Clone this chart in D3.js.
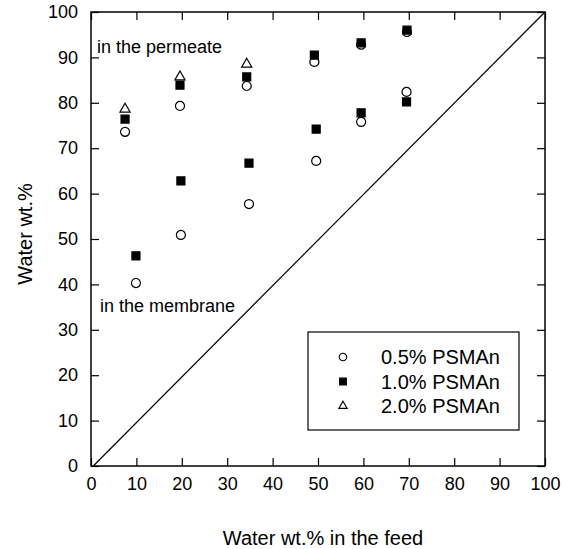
<!DOCTYPE html>
<html>
<head>
<meta charset="utf-8">
<script src="https://cdn.jsdelivr.net/npm/d3@7"></script>
<style>
  body { margin: 0; background: #fff; }
  text { font-family: "Liberation Sans", Arial, sans-serif; fill: #000; }
</style>
</head>
<body>
<svg id="chart"></svg>
<script>
//chart values
const feedPermeate = [7.5, 19.6, 34.3, 49.2, 59.5, 69.6];
const feedMembrane = [9.9, 19.8, 34.8, 49.6, 59.5, 69.5];

const permeate05 = [73.6, 79.3, 83.7, 89.0, 92.8, 95.6];
const permeate10 = [76.4, 83.9, 85.7, 90.5, 93.2, 96.0];
const permeate20 = [78.6, 85.7, 88.5];

const membrane05 = [40.3, 50.9, 57.7, 67.2, 75.8, 82.4];
const membrane10 = [46.3, 62.8, 66.7, 74.2, 77.8, 80.2];

const seriesNames = ["0.5% PSMAn", "1.0% PSMAn", "2.0% PSMAn"];
const tickValues = [0, 10, 20, 30, 40, 50, 60, 70, 80, 90, 100];
const diagonal = [[0.5, 0], [100, 100]];

//set up svg
const width = 565, height = 549;
const margin = { left: 91, right: 20, top: 12, bottom: 83 };

const svg = d3.select("#chart")
    .attr("width", width)
    .attr("height", height);

const x = d3.scaleLinear().domain([0, 100]).range([margin.left, width - margin.right]);
const y = d3.scaleLinear().domain([0, 100]).range([height - margin.bottom, margin.top]);

//axes with inward ticks on all four sides
const tickLen = 8;
const bottom = svg.append("g")
    .attr("transform", `translate(0,${y(0)})`)
    .call(d3.axisBottom(x).tickValues(tickValues).tickSizeInner(-tickLen).tickSizeOuter(0).tickPadding(11));
const left = svg.append("g")
    .attr("transform", `translate(${x(0)},0)`)
    .call(d3.axisLeft(y).tickValues(tickValues).tickSizeInner(-tickLen).tickSizeOuter(0).tickPadding(13));
svg.append("g")
    .attr("transform", `translate(0,${y(100)})`)
    .call(d3.axisTop(x).tickValues(tickValues).tickSizeInner(-tickLen).tickSizeOuter(0).tickFormat(""));
svg.append("g")
    .attr("transform", `translate(${x(100)},0)`)
    .call(d3.axisRight(y).tickValues(tickValues).tickSizeInner(-tickLen).tickSizeOuter(0).tickFormat(""));

svg.selectAll(".domain").remove();
svg.selectAll(".tick line").attr("stroke", "#000").attr("stroke-width", 1.2);
svg.selectAll(".tick text").style("font-size", "18px").attr("fill", "#000");
bottom.selectAll(".tick text").attr("dy", "0.71em");

//frame
svg.append("rect")
    .attr("x", x(0)).attr("y", y(100))
    .attr("width", x(100) - x(0)).attr("height", y(0) - y(100))
    .attr("fill", "none").attr("stroke", "#000").attr("stroke-width", 1.5);

//diagonal y = x
svg.append("path")
    .datum(diagonal)
    .attr("d", d3.line().x(d => x(d[0])).y(d => y(d[1])))
    .attr("stroke", "#000").attr("stroke-width", 1.2).attr("fill", "none");

//markers
const symCircle = d3.symbol().type(d3.symbolCircle).size(64);
const symSquare = d3.symbol().type(d3.symbolSquare).size(64);
const symTriangle = d3.symbol().type(d3.symbolTriangle).size(45);

function drawPoints(xs, ys, sym, filled) {
    svg.append("g").selectAll("path")
        .data(ys)
        .join("path")
        .attr("transform", (d, i) => `translate(${x(xs[i])},${y(d)})`)
        .attr("d", sym)
        .attr("fill", filled ? "#000" : "#fff")
        .attr("stroke", "#000")
        .attr("stroke-width", 1.2);
}

drawPoints(feedMembrane, membrane05, symCircle, false);
drawPoints(feedMembrane, membrane10, symSquare, true);
drawPoints(feedPermeate, permeate05, symCircle, false);
drawPoints(feedPermeate, permeate10, symSquare, true);
drawPoints(feedPermeate, permeate20, symTriangle, false);

//annotations
svg.append("text").attr("x", 97).attr("y", 53).style("font-size", "18px").text("in the permeate");
svg.append("text").attr("x", 100).attr("y", 312).style("font-size", "18px").text("in the membrane");

//legend
const lg = svg.append("g");
lg.append("rect")
    .attr("x", 308).attr("y", 332).attr("width", 211).attr("height", 98)
    .attr("fill", "#fff").attr("stroke", "#000").attr("stroke-width", 1.2);
const legendSyms = [
    { sym: d3.symbol().type(d3.symbolCircle).size(45), filled: false },
    { sym: d3.symbol().type(d3.symbolSquare).size(45), filled: true },
    { sym: d3.symbol().type(d3.symbolTriangle).size(30), filled: false }
];
seriesNames.forEach((name, i) => {
    const cy = 357 + i * 24.5;
    lg.append("path")
        .attr("transform", `translate(343,${cy})`)
        .attr("d", legendSyms[i].sym)
        .attr("fill", legendSyms[i].filled ? "#000" : "#fff")
        .attr("stroke", "#000").attr("stroke-width", 1.1);
    lg.append("text")
        .attr("x", 381).attr("y", cy).attr("dy", "0.36em")
        .style("font-size", "20px")
        .text(name);
});

//axis titles
svg.append("text")
    .attr("x", 323).attr("y", 545)
    .attr("text-anchor", "middle")
    .style("font-size", "20px")
    .text("Water wt.% in the feed");
svg.append("text")
    .attr("transform", `translate(32,234) rotate(-90)`)
    .attr("text-anchor", "middle")
    .style("font-size", "20px")
    .text("Water wt.%");
</script>
</body>
</html>
